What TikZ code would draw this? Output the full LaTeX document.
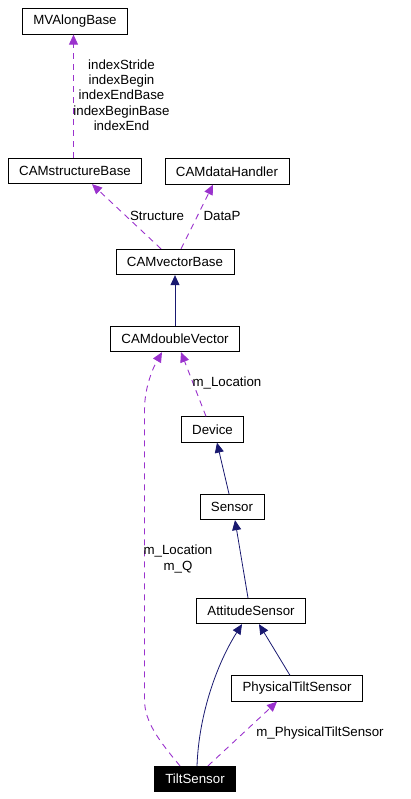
\documentclass[tikz,border=0pt]{standalone}
\usepackage{fontspec}
\setmainfont{Liberation Sans}
\usetikzlibrary{arrows.meta}
\usetikzlibrary{calc}

\definecolor{usecol}{HTML}{9A32CD}
\definecolor{inhcol}{HTML}{191970}

\begin{document}
\begin{tikzpicture}[x=1pt, y=-1pt,
    font=\fontsize{13.3}{15.3}\selectfont,
    cls/.style={draw, line width=0.8pt, inner xsep=11pt, inner ysep=0pt, minimum height=25.5pt},
    inh/.style={draw=inhcol, line width=0.8pt, -{Triangle[length=10pt,width=9pt]}, inhcol},
    use/.style={draw=usecol, line width=0.9pt, dash pattern=on 6pt off 5pt, -{Triangle[length=10pt,width=9pt]}, usecol},
    lbl/.style={align=center, inner sep=0pt}]
      \useasboundingbox (0,0) rectangle (411,799);

      \node[cls] (mvalong) at (75, 21.5) {MVAlongBase};
      \node[cls] (structbase) at (75, 171) {CAMstructureBase};
      \node[cls] (datahandler) at (227, 171.5) {CAMdataHandler};
      \node[cls] (vectorbase) at (175, 262) {CAMvectorBase};
      \node[cls] (doublevector) at (175, 339) {CAMdoubleVector};
      \node[cls] (device) at (212.5, 429.5) {Device};
      \node[cls] (sensor) at (232, 507) {Sensor};
      \node[cls] (attitude) at (251, 611) {AttitudeSensor};
      \node[cls] (physical) at (297, 688.5) {PhysicalTiltSensor};
      \node[cls, fill=black, text=white] (tilt) at (195, 779) {TiltSensor};

      \draw[use] ($(structbase.north)+(-1.5,0)$) -- ($(mvalong.south)+(-1.5,0)$);
      \draw[use] ($(vectorbase.north)+(-14,0)$) -- ($(structbase.south)+(17,0)$);
      \draw[use] ($(vectorbase.north)+(6,0)$) -- ($(datahandler.south)+(-14,0)$);
      \draw[inh] (doublevector.north) -- (vectorbase.south);
      \draw[use] ($(device.north)+(-6.5,0)$) -- ($(doublevector.south)+(6,0)$);
      \draw[inh] ($(sensor.north)+(-3,0)$) -- ($(device.south)+(4.5,0)$);
      \draw[inh] ($(attitude.north)+(-3,0)$) -- ($(sensor.south)+(3,0)$);
      \draw[inh] ($(physical.north)+(-7,0)$) -- ($(attitude.south)+(8,0)$);
      \draw[inh] ($(tilt.north)+(2,0)$) .. controls (199,712) and (218,662) .. ($(attitude.south)+(-9,0)$);
      \draw[use] ($(tilt.north)+(13,0)$) -- ($(physical.south)+(-20,0)$);
      \draw[use] ($(tilt.north)+(-15,0)$) .. controls (160,742) and (144.5,722) .. (144.5,700)
        -- (144.5,410) .. controls (144.5,386) and (154,366) .. ($(doublevector.south)+(-13,0)$);

      \node[lbl] (lidx) at (121.5, 95) {indexStride\\indexBegin\\indexEndBase\\indexBeginBase\\indexEnd};
      \node[lbl] (lstruct) at (157, 216) {Structure};
      \node[lbl] (ldata) at (222, 216) {DataP};
      \node[lbl] (lloc) at (227, 383) {m\_Location};
      \node[lbl] (llocq) at (178, 559) {m\_Location\\m\_Q};
      \node[lbl] (lphys) at (320, 733) {m\_PhysicalTiltSensor};
    \end{tikzpicture}
\end{document}
